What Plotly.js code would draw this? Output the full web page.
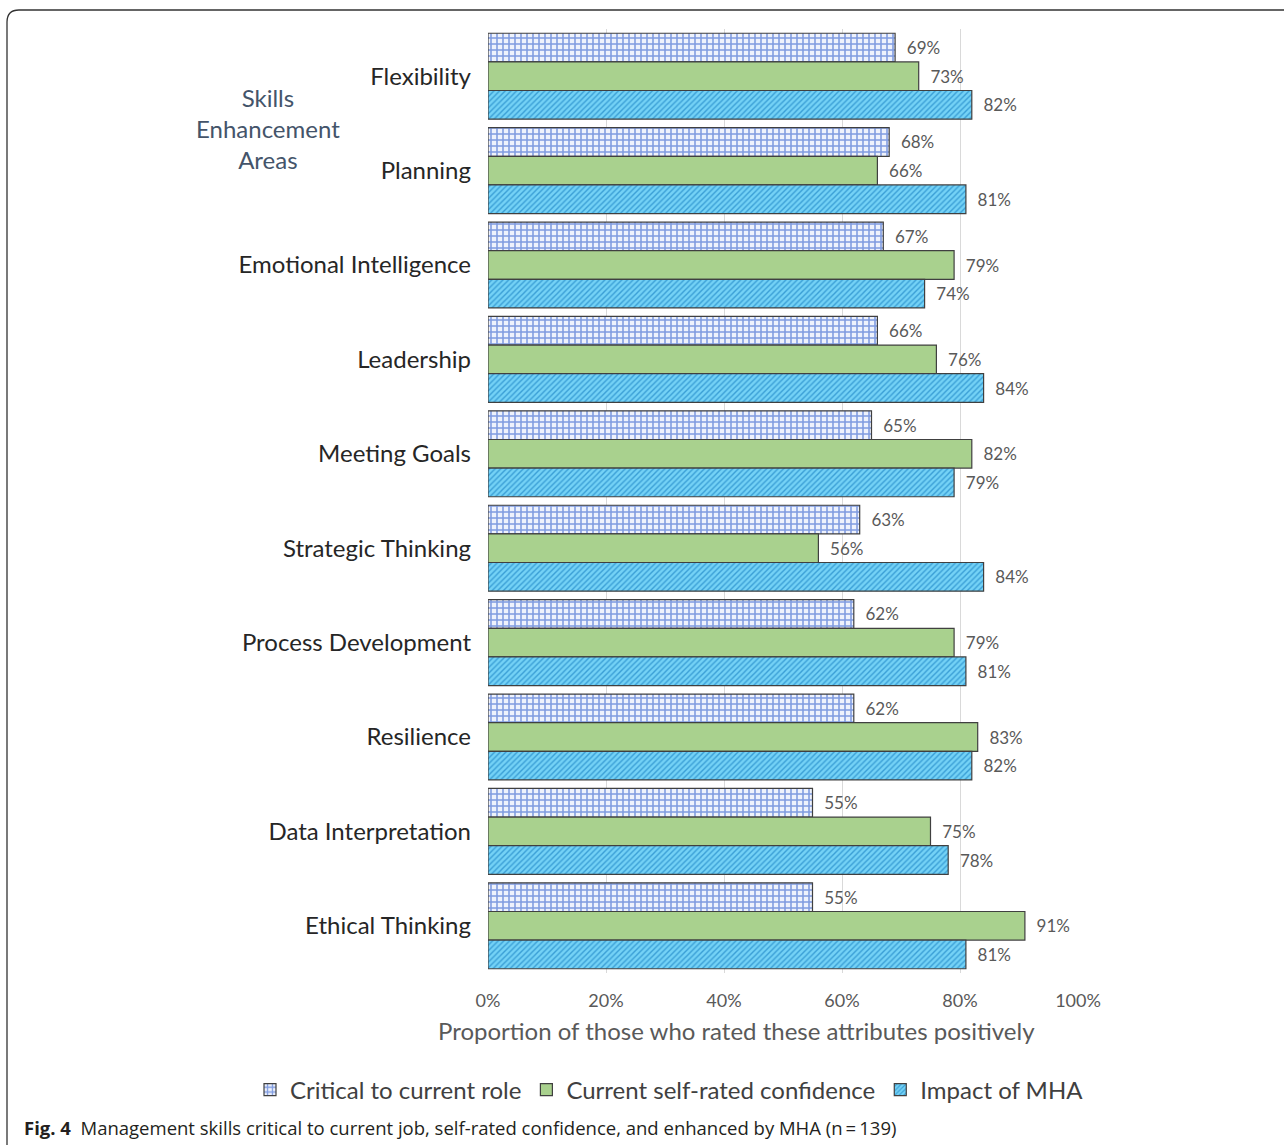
<!DOCTYPE html>
<html>
<head>
<meta charset="utf-8">
<script src="https://cdn.plot.ly/plotly-3.0.1.min.js"></script>
<style>
html,body{margin:0;padding:0;background:#fff;}
#chart{width:1284px;height:1145px;}
</style>
</head>
<body>
<div id="chart"></div>
<script>
var categories = ["Flexibility","Planning","Emotional Intelligence","Leadership","Meeting Goals","Strategic Thinking","Process Development","Resilience","Data Interpretation","Ethical Thinking"];
var seriesNames = ["Critical to current role","Current self-rated confidence","Impact of MHA"];
var critical = [69,68,67,66,65,63,62,62,55,55];
var confidence = [73,66,79,76,82,56,79,83,75,91];
var impact = [82,81,74,84,79,84,81,82,78,81];
var xTickVals = [0,20,40,60,80,100];
var xTickText = ["0%","20%","40%","60%","80%","100%"];
var xTitle = "Proportion of those who rated these attributes positively";

var W = 1284, H = 1145;
var L = 488, R = 1078, T = 29, B = 973;
var pw = R - L, ph = B - T;
function px(x){ return (x - L) / pw; }
function py(y){ return (B - y) / ph; }

var FF = "Lato, 'Open Sans', sans-serif";
var labelFont = {family:FF, size:17, color:"#595959"};

function mk(name, vals, pattern, color){
  return {
    type:"bar", orientation:"h", name:name,
    y:categories, x:vals,
    text: vals.map(function(v){return "\u00a0\u00a0" + v + "%";}),
    textposition:"outside", textfont:labelFont, cliponaxis:false,
    marker:{color:color, line:{color:"#404040", width:1.2}, pattern:pattern},
    hoverinfo:"x+y"
  };
}

var traces = [
  mk(seriesNames[0], critical, {shape:"+", bgcolor:"#eef2fc", fgcolor:"#7f9be0", size:6, solidity:0.45}, "#eef2fc"),
  mk(seriesNames[1], confidence, {shape:""}, "#a9d18e"),
  mk(seriesNames[2], impact, {shape:"/", bgcolor:"#74d2f6", fgcolor:"#3a9fd6", size:4, solidity:0.35}, "#74d2f6")
];

var layout = {
  width:W, height:H,
  margin:{l:L, r:W-R, t:T, b:H-B, pad:0},
  paper_bgcolor:"#ffffff", plot_bgcolor:"#ffffff",
  barmode:"group", bargap:0.09, bargroupgap:0,
  font:{family:FF},
  xaxis:{
    range:[0,100], tickvals:xTickVals, ticktext:xTickText,
    showgrid:true, gridcolor:"#d9d9d9", gridwidth:1,
    zeroline:false, showline:false, ticks:"",
    tickfont:{family:FF, size:18, color:"#595959"},
    ticklabelstandoff:15,
    fixedrange:true
  },
  yaxis:{
    type:"category", autorange:"reversed",
    showgrid:false, zeroline:false, showline:false, ticks:"",
    tickfont:{family:FF, size:24, color:"#262626"},
    ticklabelstandoff:16,
    fixedrange:true
  },
  legend:{
    orientation:"h",
    x:px(250), xanchor:"left", y:py(1090), yanchor:"middle",
    font:{family:FF, size:24, color:"#404040"},
    itemwidth:30, traceorder:"normal"
  },
  annotations:[
    {xref:"paper", yref:"paper", x:px(736), y:py(1030), xanchor:"center", yanchor:"middle",
     text:xTitle, showarrow:false,
     font:{family:FF, size:24, color:"#595959"}},
    {xref:"paper", yref:"paper", x:px(268), y:py(128), xanchor:"center", yanchor:"middle",
     text:"Skills<br>Enhancement<br>Areas", showarrow:false, align:"center",
     font:{family:FF, size:24, color:"#44546a"}},
    {xref:"paper", yref:"paper", x:px(22), y:py(1127), xanchor:"left", yanchor:"middle",
     text:"<b>Fig. 4</b>  Management skills critical to current job, self-rated confidence, and enhanced by MHA (n\u2009=\u2009139)",
     showarrow:false, align:"left",
     font:{family:"'Open Sans', Lato, sans-serif", size:18.5, color:"#231f20"}}
  ],
  shapes:[
    {type:"path", xref:"paper", yref:"paper", layer:"above",
     path:"M "+px(7)+","+py(1145)+" L "+px(7)+","+py(22)+" Q "+px(7)+","+py(10)+" "+px(19)+","+py(10)+" L "+px(1290)+","+py(10),
     line:{color:"#333333", width:1.3}}
  ],
  showlegend:true
};

Plotly.newPlot("chart", traces, layout, {displayModeBar:false, staticPlot:true});
</script>
</body>
</html>
